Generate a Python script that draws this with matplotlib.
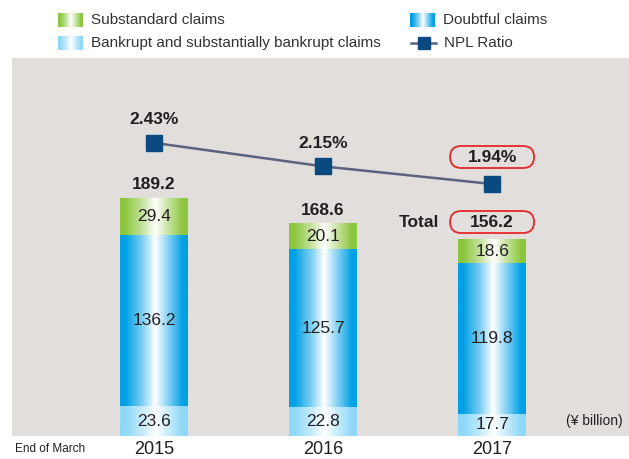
import numpy as np
import matplotlib
matplotlib.use('Agg')
import matplotlib.pyplot as plt
from matplotlib.colors import LinearSegmentedColormap, to_rgb
from matplotlib.lines import Line2D
from matplotlib.patches import FancyBboxPatch
from matplotlib.transforms import IdentityTransform

plt.rcParams['font.family'] = ['Liberation Sans', 'DejaVu Sans']

# data
years = ['2015', '2016', '2017']
bankrupt = [23.6, 22.8, 17.7]
doubtful = [136.2, 125.7, 119.8]
substandard = [29.4, 20.1, 18.6]
totals = [189.2, 168.6, 156.2]
npl_ratio = [2.43, 2.15, 1.94]

W, H = 629, 459
TXT = '#231f20'
BG = '#e2dedb'
GREEN = '#8cc63e'
BLUE = '#00a0e6'
LBLUE = '#8ed8f8'
MARKER = '#0b4a80'
LINE = '#5b6380'
RED = '#e8262d'


def grad_cmap(dark):
    d = np.array(to_rgb(dark))
    w = np.ones(3)
    mid = 0.5 * d + 0.5 * w
    nodes = [(0.0, d), (0.08, d), (0.33, mid), (0.52, w), (0.72, mid), (0.93, d), (1.0, d)]
    return LinearSegmentedColormap.from_list('g', [(p, tuple(c)) for p, c in nodes])


GRAD = np.linspace(0, 1, 256).reshape(1, -1)


def fig_box(x0, y0, x1, y1):
    # pixel box (top-left origin) -> figure fraction rect
    return [x0 / W, 1 - y1 / H, (x1 - x0) / W, (y1 - y0) / H]


def red_box(axis, xd, yd, dy, label):
    # fixed size rounded box, placed dy pixels above the data point
    cx, cy = axis.transData.transform((xd, yd))
    cy += dy
    bw, bh = 84, 22
    fig.add_artist(FancyBboxPatch((cx - bw / 2, cy - bh / 2), bw, bh,
                                  boxstyle='round,pad=0,rounding_size=11',
                                  transform=IdentityTransform(), fc='none', ec=RED, lw=1.3))
    fig.text(cx / W, cy / H, label, ha='center', va='center', fontsize=12.5,
             fontweight='bold', color=TXT)


fig = plt.figure(figsize=(W / 100, H / 100), dpi=100)
ax = fig.add_axes(fig_box(12, 58, 629, 436))
ax.set_facecolor(BG)
for s in ax.spines.values():
    s.set_visible(False)
ax.set_xticks([])
ax.set_yticks([])

x = np.arange(len(years))
width = 0.40
segments = [(bankrupt, LBLUE), (doubtful, BLUE), (substandard, GREEN)]
bottoms = np.zeros(len(years))
for vals, col in segments:
    cm = grad_cmap(col)
    for i, v in enumerate(vals):
        ax.imshow(GRAD, cmap=cm, aspect='auto', interpolation='bilinear',
                  extent=[x[i] - width / 2, x[i] + width / 2, bottoms[i], bottoms[i] + v],
                  zorder=2)
        ax.text(x[i], bottoms[i] + v / 2, f'{v:.1f}', ha='center', va='center',
                fontsize=12.5, color=TXT, zorder=3)
    bottoms += np.array(vals)

ax.set_xlim(-0.84, 2.81)
ax.set_ylim(0, 300.5)

# NPL ratio line
ax2 = ax.twinx()
ax2.set_ylim(-1.06, 3.44)
ax2.set_axis_off()
ax2.plot(x, npl_ratio, color=LINE, lw=1.8, marker='s', markersize=12,
         markerfacecolor=MARKER, markeredgecolor=MARKER, zorder=4)

# totals and ratio labels
last = len(years) - 1
for i in range(last):
    ax.annotate(f'{totals[i]:.1f}', (x[i], totals[i]), xytext=(0, 10), textcoords='offset points',
                ha='center', va='center', fontsize=12.5, fontweight='bold', color=TXT)
    ax2.annotate(f'{npl_ratio[i]:.2f}%', (x[i], npl_ratio[i]), xytext=(0, 16.5),
                 textcoords='offset points', ha='center', va='center', fontsize=12.5,
                 fontweight='bold', color=TXT)
red_box(ax, x[last], totals[last], 17.5, f'{totals[last]:.1f}')
red_box(ax2, x[last], npl_ratio[last], 27, f'{npl_ratio[last]:.2f}%')
ax.annotate('Total', (x[last], totals[last]), xytext=(-53, 12.5), textcoords='offset points',
            ha='center', va='center', fontsize=12.5, fontweight='bold', color=TXT)

ax.text(0.99, 0.04, '(¥ billion)', transform=ax.transAxes, ha='right', va='center',
        fontsize=10, color=TXT)

# x labels below the panel
for i, y in enumerate(years):
    ax.annotate(y, (x[i], 0), xytext=(0, -10), textcoords='offset points',
                ha='center', va='center', fontsize=13, color=TXT, annotation_clip=False)
fig.text(15 / W, 1 - 449 / H, 'End of March', ha='left', va='center', fontsize=8.5,
         color=TXT, family=['Liberation Sans Narrow', 'Liberation Sans', 'DejaVu Sans'])

# legend
leg_items = [
    ('Substandard claims', GREEN, 58, 20),
    ('Doubtful claims', BLUE, 410, 20),
    ('Bankrupt and substantially bankrupt claims', LBLUE, 58, 43),
]
for label, col, px, py in leg_items:
    lax = fig.add_axes(fig_box(px, py - 7, px + 25, py + 7))
    lax.imshow(GRAD, cmap=grad_cmap(col), aspect='auto', interpolation='bilinear')
    lax.set_axis_off()
    fig.text((px + 33) / W, 1 - py / H, label, ha='left', va='center', fontsize=11, color='#333333')

ly = 1 - 43 / H
fig.add_artist(Line2D([411 / W, 436 / W], [ly, ly], transform=fig.transFigure, color=LINE, lw=1.8))
fig.add_artist(Line2D([423.5 / W], [ly], transform=fig.transFigure, marker='s', markersize=8.5,
                      markerfacecolor=MARKER, markeredgecolor=MARKER, lw=0))
fig.text(444 / W, ly, 'NPL Ratio', ha='left', va='center', fontsize=11, color='#333333')

fig.savefig('out.png', dpi=100)
